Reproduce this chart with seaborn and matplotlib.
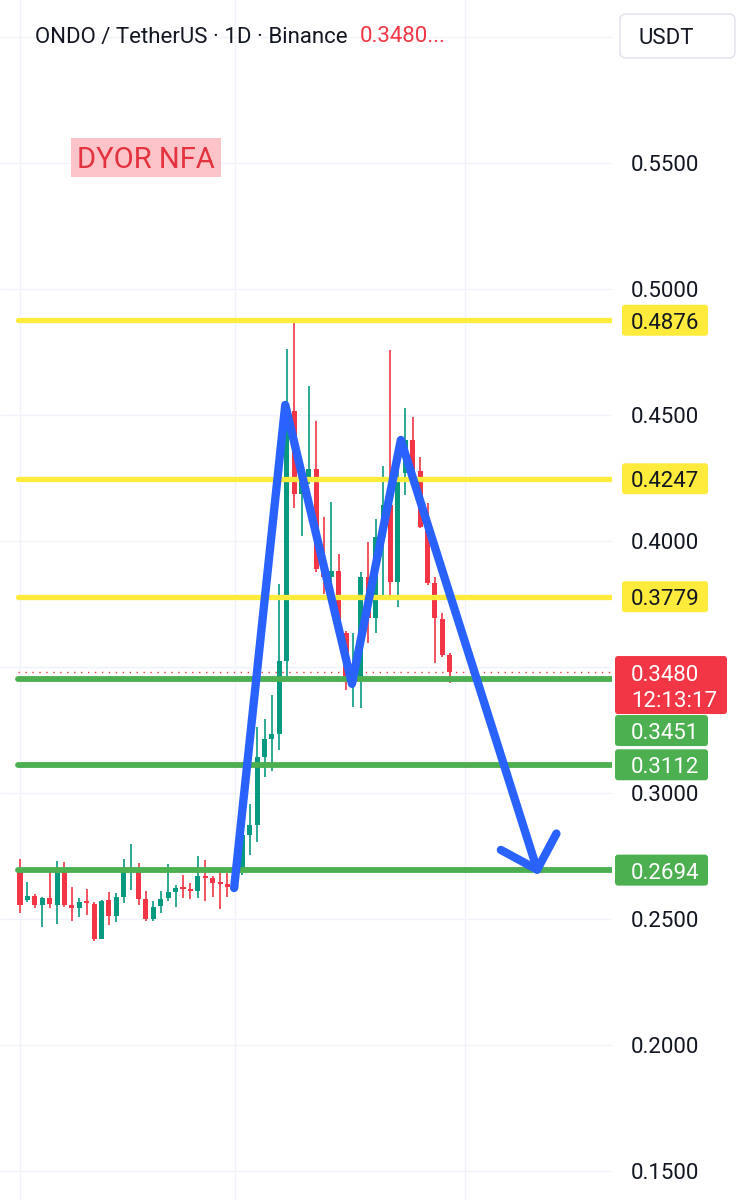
import numpy as np
import pandas as pd
import matplotlib
matplotlib.use("Agg")
import matplotlib.pyplot as plt
import seaborn as sns
from matplotlib.patches import FancyBboxPatch, Rectangle

# ONDO / USDT daily candles
opens = [0.2698, 0.2575, 0.2591, 0.2556, 0.2583, 0.2556, 0.2694, 0.2556, 0.2544, 0.2567,
         0.2560, 0.2421, 0.2575, 0.2512, 0.2587, 0.2694, 0.2702, 0.2579, 0.2500, 0.2552,
         0.2583, 0.2607, 0.2623, 0.2619, 0.2611, 0.2671, 0.2663, 0.2643, 0.2639, 0.2623,
         0.2687, 0.2833, 0.2873, 0.3143, 0.3214, 0.3234, 0.3524, 0.4516, 0.4187, 0.4234,
         0.4286, 0.3881, 0.3857, 0.3881, 0.3635, 0.3433, 0.3456, 0.3857, 0.3694, 0.4016,
         0.4143, 0.3837, 0.4270, 0.4401, 0.4278, 0.4056, 0.3833, 0.3690, 0.3548]
highs = [0.2738, 0.2647, 0.2599, 0.2587, 0.2702, 0.2730, 0.2726, 0.2627, 0.2583, 0.2619,
         0.2567, 0.2575, 0.2607, 0.2603, 0.2738, 0.2798, 0.2722, 0.2611, 0.2571, 0.2611,
         0.2718, 0.2635, 0.2675, 0.2643, 0.2750, 0.2734, 0.2671, 0.2702, 0.2683, 0.2734,
         0.2853, 0.2956, 0.3262, 0.3294, 0.3389, 0.3829, 0.4762, 0.4877, 0.4250, 0.4615,
         0.4476, 0.4095, 0.4155, 0.3948, 0.3643, 0.3635, 0.3877, 0.3996, 0.4087, 0.4298,
         0.4758, 0.4298, 0.4528, 0.4492, 0.4333, 0.4151, 0.3857, 0.3714, 0.3556]
lows = [0.2524, 0.2567, 0.2544, 0.2468, 0.2544, 0.2480, 0.2548, 0.2492, 0.2508, 0.2516,
        0.2413, 0.2421, 0.2476, 0.2488, 0.2563, 0.2615, 0.2556, 0.2492, 0.2492, 0.2524,
        0.2571, 0.2548, 0.2583, 0.2579, 0.2583, 0.2571, 0.2587, 0.2540, 0.2587, 0.2615,
        0.2675, 0.2754, 0.2806, 0.3063, 0.3087, 0.3171, 0.3444, 0.4131, 0.4020, 0.4226,
        0.3877, 0.3790, 0.3734, 0.3595, 0.3409, 0.3341, 0.3337, 0.3595, 0.3635, 0.3766,
        0.3786, 0.3738, 0.4183, 0.4270, 0.4052, 0.3825, 0.3516, 0.3540, 0.3437]
closes = [0.2556, 0.2591, 0.2556, 0.2583, 0.2560, 0.2694, 0.2556, 0.2544, 0.2567, 0.2563,
          0.2421, 0.2571, 0.2512, 0.2587, 0.2698, 0.2702, 0.2579, 0.2500, 0.2548, 0.2579,
          0.2607, 0.2623, 0.2619, 0.2611, 0.2671, 0.2663, 0.2643, 0.2639, 0.2627, 0.2683,
          0.2833, 0.2873, 0.3143, 0.3214, 0.3234, 0.3524, 0.4516, 0.4187, 0.4234, 0.4286,
          0.3889, 0.3857, 0.3881, 0.3635, 0.3440, 0.3476, 0.3857, 0.3694, 0.4016, 0.4143,
          0.3837, 0.4242, 0.4401, 0.4282, 0.4056, 0.3833, 0.3694, 0.3548, 0.3480]

yellow_levels = [0.4876, 0.4247, 0.3779]
green_levels = [0.3451, 0.3112, 0.2694]
last_price = 0.3480
countdown = "12:13:17"

axis_prices = [0.55, 0.50, 0.45, 0.40, 0.30, 0.25, 0.20, 0.15]
grid_prices = [0.15, 0.20, 0.25, 0.30, 0.35, 0.40, 0.45, 0.50, 0.55, 0.60]
month_starts = [0, 29, 60]

# hand drawn double top + arrow (candle index, price)
pattern_x = [28.9, 35.8, 44.8, 51.4, 69.8]
pattern_y = [0.2623, 0.4540, 0.3433, 0.4401, 0.2696]
arrow_x = [64.9, 69.8, 72.4]
arrow_y = [0.2774, 0.2696, 0.2839]

UP, DOWN = "#089981", "#F23645"
YELLOW, GREEN, BLUE = "#FFEB3B", "#4CAF50", "#2962FF"
INK = "#131722"

df = pd.DataFrame({"o": opens, "h": highs, "l": lows, "c": closes})
df["i"] = np.arange(len(df))
df["col"] = np.where(df["c"] >= df["o"], UP, DOWN)

sns.set_theme(style="white")
plt.rcParams["font.family"] = ["Roboto", "DejaVu Sans"]

W, H = 755, 1200
PX = 1 / 2520  # one pixel in price units
fig = plt.figure(figsize=(W / 100, H / 100), dpi=100)
ax = fig.add_axes([0, 0, 612 / W, 1])
ylim = (0.13849, 0.61468)
ax.set_xlim(-2.7, 79.9)
ax.set_ylim(*ylim)
ax.axis("off")

# grid
for g in grid_prices:
    ax.axhline(g, color="#F0F3FA", lw=1.0, zorder=0)
for m in month_starts:
    ax.axvline(m, color="#F0F3FA", lw=1.0, zorder=0)

# candles
ax.vlines(df["i"], df["l"], df["h"], colors=df["col"], lw=1.2, zorder=2)
body = (df["c"] - df["o"]).abs().clip(lower=0.0007)
ax.bar(df["i"], body, bottom=df[["o", "c"]].min(axis=1), width=0.68,
       color=df["col"], linewidth=0, zorder=3)

# levels
for lv in yellow_levels:
    ax.axhline(lv, xmin=0.029, xmax=1, color=YELLOW, lw=3.8, zorder=4)
for lv in green_levels:
    ax.axhline(lv, xmin=0.029, xmax=1, color=GREEN, lw=4.2, zorder=4)
ax.axhline(last_price, xmin=0.029, xmax=1, color=DOWN, lw=1.0,
           ls=(0, (1, 4)), zorder=1)

# pattern drawing
sns.lineplot(x=pattern_x, y=pattern_y, sort=False, ax=ax, color=BLUE, lw=6,
             solid_capstyle="round", solid_joinstyle="round", zorder=6)
sns.lineplot(x=arrow_x, y=arrow_y, sort=False, ax=ax, color=BLUE, lw=6,
             solid_capstyle="round", solid_joinstyle="round", zorder=6)

# DYOR NFA tag
ax.add_patch(Rectangle((6.88, 0.5444), 20.25, 0.0155, color="#FCC3C8", lw=0, zorder=5))
ax.text(17.0, 0.5521 - 2 * PX, "DYOR NFA", color="#E5323F", fontsize=21,
        ha="center", va="center", zorder=6)

# right price scale
axr = fig.add_axes([612 / W, 0, 143 / W, 1])
axr.set_xlim(0, 143)
axr.set_ylim(*ylim)
axr.axis("off")
BH = 31 * PX
DY = -3 * PX  # visual centring of digits
FS = 16

for p in axis_prices:
    axr.text(19, p + DY, f"{p:.4f}", fontsize=FS, color=INK, va="center")


def tag(top, x0, w, h, face):
    axr.add_patch(FancyBboxPatch((x0, top - h), w, h,
                                 boxstyle="round,pad=0,rounding_size=3",
                                 mutation_aspect=PX, fc=face, ec="none", zorder=5))


for lv in yellow_levels:
    tag(lv + BH / 2, 10, 86, BH, YELLOW)
    axr.text(19, lv + DY, f"{lv:.4f}", fontsize=FS, color=INK, va="center", zorder=6)

# last price tag, the 0.3451 tag is pushed under it
red_top = last_price + 16 * PX
red_h = 58 * PX
tag(red_top, 3, 112, red_h, DOWN)
axr.text(19, last_price + DY, f"{last_price:.4f}", fontsize=FS, color="white",
         va="center", zorder=6)
axr.text(19, last_price - 26 * PX + DY, countdown, fontsize=FS, color="white",
         va="center", zorder=6)

for lv in green_levels:
    top = lv + BH / 2
    if top > red_top - red_h:
        top = red_top - red_h - PX
    tag(top, 3, 93, BH, GREEN)
    axr.text(19, top - BH / 2 + DY, f"{lv:.4f}", fontsize=FS, color="white",
             va="center", zorder=6)

# header
fig.text(35 / W, 1 - 37 / H, "ONDO / TetherUS · 1D · Binance", fontsize=16,
         color=INK, va="center")
fig.text(360 / W, 1 - 37 / H, "0.3480...", fontsize=16, color=DOWN, va="center")
fig.patches.append(FancyBboxPatch((620 / W, 1 - 58 / H), 115 / W, 44 / H,
                                  boxstyle="round,pad=0,rounding_size=0.008",
                                  mutation_aspect=W / H, fc="white", ec="#E0E3EB",
                                  lw=1, transform=fig.transFigure, figure=fig))
fig.text(638 / W, 1 - 38 / H, "USDT", fontsize=16, color=INK, va="center")

fig.savefig("out.png", dpi=100, facecolor="white")
